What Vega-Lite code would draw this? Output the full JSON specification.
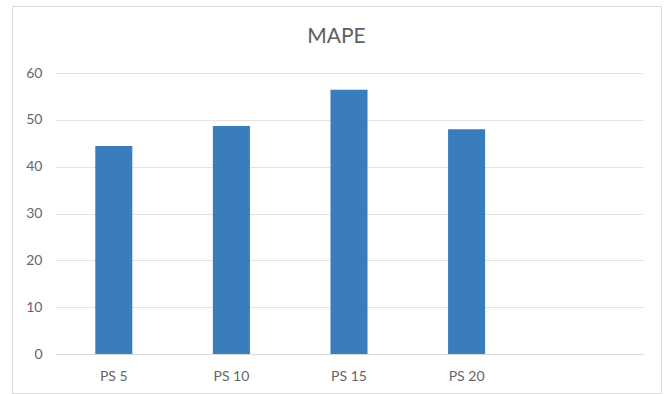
{
  "$schema": "https://vega.github.io/schema/vega-lite/v6.json",
  "autosize": {"type": "none"},
  "padding": {"left": 12, "top": 6, "right": 6, "bottom": 1},
  "width": 649,
  "height": 387,
  "background": "white",
  "title": {
    "text": "MAPE",
    "anchor": "middle",
    "font": "Lato",
    "fontSize": 21,
    "fontWeight": "normal",
    "color": "#5f5f5f",
    "baseline": "alphabetic",
    "offset": -58
  },
  "data": {
    "values": [
      {"category": "PS 5", "mape": 44.4},
      {"category": "PS 10", "mape": 48.7},
      {"category": "PS 15", "mape": 56.4},
      {"category": "PS 20", "mape": 48.0}
    ]
  },
  "mark": {"type": "bar", "color": "#3a7dbc"},
  "encoding": {
    "x": {
      "field": "category",
      "type": "nominal",
      "sort": null,
      "scale": {"domain": ["PS 5", "PS 10", "PS 15", "PS 20", " "], "range": [43, 631], "paddingInner": 0.685, "paddingOuter": 0.3425},
      "axis": {
        "title": null,
        "labelAngle": 0,
        "offset": -39,
        "domainColor": "#d9d9d9",
        "domainWidth": 1,
        "ticks": false,
        "labelPadding": 15,
        "labelFont": "Lato",
        "labelFontSize": 14,
        "labelColor": "#666666"
      }
    },
    "y": {
      "field": "mape",
      "type": "quantitative",
      "scale": {"domain": [0, 60], "range": [348, 67], "nice": false},
      "axis": {
        "title": null,
        "values": [0, 10, 20, 30, 40, 50, 60],
        "offset": -43,
        "domain": false,
        "ticks": false,
        "labelPadding": 13,
        "gridColor": "#e3e3e3",
        "gridWidth": 1,
        "labelFont": "Lato",
        "labelFontSize": 14,
        "labelColor": "#666666"
      }
    }
  },
  "config": {
    "view": {"stroke": "#dadada", "strokeWidth": 1}
  }
}
